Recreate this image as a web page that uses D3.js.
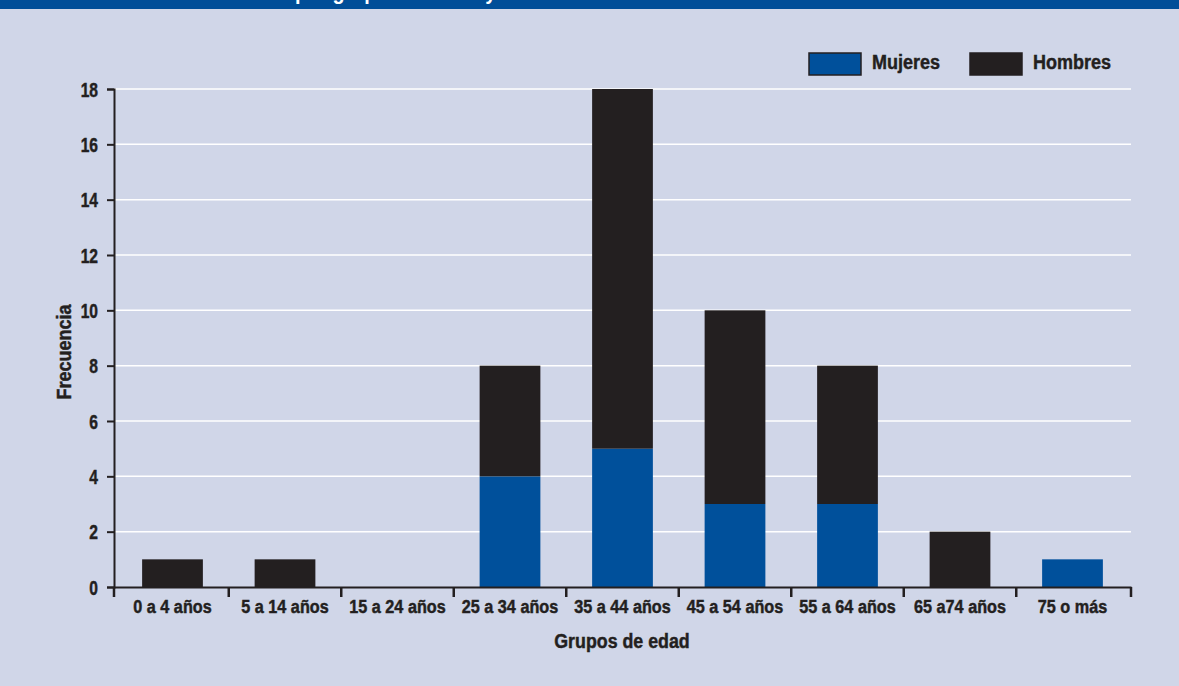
<!DOCTYPE html>
<html><head><meta charset="utf-8">
<script src="https://cdn.jsdelivr.net/npm/d3@7"></script>
<style>
html,body{margin:0;padding:0;background:#d0d6e8;}
svg{display:block;}
text{font-family:"Liberation Sans",Arial,sans-serif;font-weight:bold;fill:#231f20;stroke:#231f20;stroke-width:0.45px;}
</style></head>
<body>
<svg id="chart" width="1179" height="686"></svg>
<script>
const categories = ["0 a 4 años","5 a 14 años","15 a 24 años","25 a 34 años","35 a 44 años","45 a 54 años","55 a 64 años","65 a74 años","75 o más"];
const mujeres = [0,0,0,4,5,3,3,0,1];
const hombres = [1,1,0,4,13,7,5,2,0];
const seriesNames = ["Mujeres","Hombres"];
const yTicks = [0,2,4,6,8,10,12,14,16,18];
const titleText = "por grupos de edad y sexo";

const W = 1179, H = 686;
const colors = {Mujeres:"#00509b", Hombres:"#231f20"};
const svg = d3.select("#chart");

function condense(sel, f){
  sel.each(function(){
    const w = this.getComputedTextLength();
    this.setAttribute("textLength", (w*f).toFixed(2));
    this.setAttribute("lengthAdjust","spacingAndGlyphs");
  });
}

svg.append("rect").attr("width",W).attr("height",H).attr("fill","#d0d6e8");
// banner
svg.append("rect").attr("x",0).attr("y",0).attr("width",W).attr("height",9).attr("fill","#004e98");
svg.append("text").attr("x",295).attr("y",-1).style("fill","#fff").style("stroke","none").style("font-size","22px").text(titleText)
  .call(condense,0.9);

const x = d3.scaleBand().domain(categories).range([114,1131]).paddingInner(0.46).paddingOuter(0.25);
const y = d3.scaleLinear().domain([0,18]).range([587,89]);

// grid
svg.append("g").selectAll("line").data(yTicks.filter(d=>d>0)).join("line")
  .attr("x1",114).attr("x2",1131).attr("y1",d=>y(d)).attr("y2",d=>y(d))
  .attr("stroke","#ffffff").attr("stroke-width",1.5);

const data = categories.map((c,i)=>({cat:c, Mujeres:mujeres[i], Hombres:hombres[i]}));
const stack = d3.stack().keys(seriesNames)(data);
svg.append("g").selectAll("g").data(stack).join("g")
  .attr("fill",d=>colors[d.key])
  .selectAll("rect").data(d=>d).join("rect")
  .attr("x",d=>x(d.data.cat)).attr("width",x.bandwidth())
  .attr("y",d=>y(d[1])).attr("height",d=>y(d[0])-y(d[1]));

// y axis
const yAxis = svg.append("g").attr("transform","translate(114,0)")
  .call(d3.axisLeft(y).tickValues(yTicks).tickSize(7).tickPadding(9));
yAxis.select(".domain").attr("stroke","#231f20").attr("stroke-width",2);
yAxis.selectAll(".tick line").attr("stroke","#231f20").attr("stroke-width",2);
yAxis.selectAll(".tick text").style("font-size","19.5px").style("font-family",null).attr("fill","#231f20").attr("dy","0.36em")
  .call(condense,0.8);

// x axis
const xAxis = svg.append("g").attr("transform","translate(0,587)")
  .call(d3.axisBottom(x).tickSize(0).tickPadding(13));
xAxis.select(".domain").attr("stroke","#231f20").attr("stroke-width",2);
xAxis.selectAll(".tick text").style("font-size","18px").style("font-family",null).attr("fill","#231f20")
  .call(condense,0.9);
const bounds = [114].concat(categories.slice(1).map(c=>x(c)-x.step()*x.paddingInner()/2)).concat([1131]);
xAxis.selectAll(".bt").data(bounds).join("line").attr("class","bt")
  .attr("x1",d=>d).attr("x2",d=>d).attr("y1",0).attr("y2",10)
  .attr("stroke","#231f20").attr("stroke-width",2.5);

// axis titles
svg.append("text").attr("x",622).attr("y",648).attr("text-anchor","middle").style("font-size","20px").text("Grupos de edad")
  .call(condense,0.89);
svg.append("text").attr("transform","translate(71,352) rotate(-90)").attr("text-anchor","middle").style("font-size","20px").text("Frecuencia")
  .call(condense,0.9);

// legend
const legX = [809, 970];
const leg = svg.append("g").selectAll("g").data(seriesNames).join("g")
  .attr("transform",(d,i)=>`translate(${legX[i]},53)`);
leg.append("rect").attr("width",52).attr("height",22).attr("fill",d=>colors[d])
  .attr("stroke","#231f20").attr("stroke-width",1.5);
leg.append("text").attr("x",63).attr("y",16).style("font-size","20px").text(d=>d)
  .call(condense,0.9);
</script>
</body></html>
